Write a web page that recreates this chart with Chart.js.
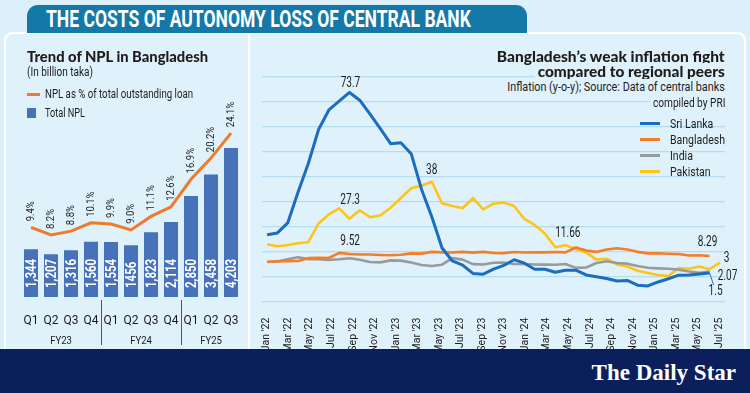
<!DOCTYPE html>
<html lang="en">
<head>
<meta charset="utf-8">
<title>The costs of autonomy loss of central bank</title>
<script src="https://cdn.jsdelivr.net/npm/chart.js@4.4.1/dist/chart.umd.min.js"></script>
<style>
  html, body { margin: 0; padding: 0; }
  body {
    width: 750px; height: 393px; position: relative; overflow: hidden;
    background: #dcf0fb; color: #1d1d1d; font-family: Roboto, sans-serif;
  }
  .abs { position: absolute; white-space: nowrap; }
  #frame { left: 4px; top: 32px; width: 742px; height: 320px; background: #fff; border-radius: 8px 8px 0 0; }
  .panel { top: 34px; height: 315px; background: #dff1fb; }
  #panelL { left: 6px; width: 242px; border-radius: 7px 0 0 0; }
  #panelR { left: 250px; width: 494px; border-radius: 0 7px 0 0; }
  #tab { left: 27px; top: 5px; width: 500px; height: 28px; background: #1479a9; border-radius: 11px 11px 0 0; }
  #tabText { left: 46px; top: 5px; color: #fff; font-weight: bold; font-size: 24px; line-height: 28px; transform-origin: left center; }
  #footer { left: 0; top: 349px; width: 750px; height: 44px; background: #0c1f5d; }
  #logo {
    right: 14px; top: 360px; color: #fff; font-size: 23px; line-height: 26px;
    font-family: "Liberation Serif", "DejaVu Serif", serif; font-weight: bold;
  }
  .head { font-family: Lato, "Open Sans", sans-serif; font-weight: 900; font-size: 15.5px; line-height: 16px; }
  .small { font-size: 12.5px; line-height: 16px; }
  .left { transform-origin: left center; }
  .right { transform-origin: right center; }
  .mask { background: #dff1fb; padding-left: 3px; }
  canvas { position: absolute; }
  .legRow { position: absolute; left: 0; height: 16px; width: 110px; font-size: 13.5px; line-height: 16px; }
  .legRow i { position: absolute; left: 0; top: 6.5px; width: 20px; height: 3px; }
  .legRow span { position: absolute; left: 30px; transform: scaleX(0.78); transform-origin: left center; }
</style>
</head>
<body>
<div id="frame" class="abs"></div>
<div id="panelL" class="abs panel"></div>
<div id="panelR" class="abs panel"></div>
<div id="tab" class="abs"></div>
<div id="tabText" class="abs fit" data-w="425">THE COSTS OF AUTONOMY LOSS OF CENTRAL BANK</div>

<canvas id="chartNpl" width="243" height="304" style="left:5px; top:45px;"></canvas>
<canvas id="chartInflacion" width="493" height="304" style="left:252px; top:45px;"></canvas>

<!-- textos panel izquierdo -->
<div class="abs head left fit" data-w="181" style="left:27px; top:48px;">Trend of NPL in Bangladesh</div>
<div class="abs small left fit" data-w="66" style="left:27px; top:64px;">(In billion taka)</div>
<div class="abs" style="left:27px; top:92.5px; width:13px; height:3px; background:#f07a2b;"></div>
<div class="abs small left fit" data-w="148" style="left:45px; top:86px;">NPL as % of total outstanding loan</div>
<div class="abs" style="left:27px; top:108px; width:9px; height:10px; background:#4771b9;"></div>
<div class="abs small left fit" data-w="40" style="left:45px; top:105px;">Total NPL</div>

<!-- textos panel derecho -->
<div class="abs head right fit mask" data-w="231" style="right:25px; top:48px;">Bangladesh’s weak inflation fight</div>
<div class="abs head right fit mask" data-w="190" style="right:25px; top:63px;">compared to regional peers</div>
<div class="abs small right fit mask" data-w="220" style="right:25px; top:79px;">Inflation (y-o-y); Source: Data of central banks</div>
<div class="abs small right fit mask" data-w="75" style="right:25px; top:95px;">compiled by PRI</div>
<div id="leyenda" class="abs" style="left:640px; top:115px; width:110px; height:70px;"></div>

<div id="footer" class="abs"></div>
<div id="logo" class="abs">The Daily Star</div>

<script>
// =========================================================================
// DATOS - NPL (Bangladesh)
// =========================================================================
const quarters = ['Q1', 'Q2', 'Q3', 'Q4', 'Q1', 'Q2', 'Q3', 'Q4', 'Q1', 'Q2', 'Q3'];
const fiscalYears = ['FY23', 'FY24', 'FY25'];
const fiscalYearSize = [4, 4, 3];
const totalNpl = [1344, 1207, 1316, 1560, 1554, 1456, 1823, 2114, 2850, 3458, 4203];
const totalNplText = ['1,344', '1,207', '1,316', '1,560', '1,554', '1456', '1,823', '2,114', '2,850', '3,458', '4,203'];
const nplShare = [9.4, 8.2, 8.8, 10.1, 9.9, 9.0, 11.1, 12.6, 16.9, 20.2, 24.1];

// =========================================================================
// DATOS - Inflación regional (y-o-y, %)
// =========================================================================
const months = [
    "Jan '22", "Feb '22", "Mar '22", "Apr '22", "May '22", "Jun '22", "Jul '22", "Aug '22", "Sep '22", "Oct '22", "Nov '22", "Dec '22",
    "Jan '23", "Feb '23", "Mar '23", "Apr '23", "May '23", "Jun '23", "Jul '23", "Aug '23", "Sep '23", "Oct '23", "Nov '23", "Dec '23",
    "Jan '24", "Feb '24", "Mar '24", "Apr '24", "May '24", "Jun '24", "Jul '24", "Aug '24", "Sep '24", "Oct '24", "Nov '24", "Dec '24",
    "Jan '25", "Feb '25", "Mar '25", "Apr '25", "May '25", "Jun '25", "Jul '25", "Aug '25", "Sep '25"
];
const monthTicks = [
    "Jan '22", "Mar '22", "May '22", "Jul '22", "Sep '22", "Nov '22", "Jan '23", "Mar '23", "May '23", "Jul '23", "Sep '23",
    "Nov '23", "Jan '24", "Mar '24", "May '24", "Jul '24", "Sep '24", "Nov '24", "Jan '25", "Mar '25", "May '25", "Jul '25"
];
const sriLanka = [
    16.8, 17.5, 21.5, 33.8, 45.3, 58.9, 66.7, 70.2, 73.7, 70.6, 65.0, 59.2,
    53.2, 53.6, 49.2, 35.0, 24.0, 11.5, 6.3, 4.6, 1.3, 1.0, 3.0, 4.5,
    6.8, 5.4, 3.0, 3.0, 1.8, 2.6, 2.6, 0.7, 0.0, -0.7, -1.7, -1.5,
    -3.4, -3.7, -2.1, -0.8, 0.6, 0.7, 1.1, 1.5, null
];
const bangladesh = [
    5.86, 6.17, 6.22, 6.29, 7.42, 7.56, 7.48, 9.52, 9.10, 8.91, 8.85, 8.71,
    8.57, 8.78, 9.33, 9.24, 9.94, 9.74, 9.69, 9.92, 9.63, 9.93, 9.49, 9.41,
    9.86, 9.67, 9.81, 9.74, 9.89, 9.72, 11.66, 10.49, 9.92, 10.87, 11.38, 10.89,
    9.94, 9.32, 9.35, 9.17, 9.05, 8.48, 8.55, 8.29, null
];
const india = [
    6.01, 6.07, 6.95, 7.79, 7.04, 7.01, 6.71, 7.0, 7.41, 6.77, 5.88, 5.72,
    6.52, 6.44, 5.66, 4.70, 4.25, 4.81, 7.44, 6.83, 5.02, 4.87, 5.55, 5.69,
    5.10, 5.09, 4.85, 4.83, 4.75, 5.08, 3.54, 3.65, 5.49, 6.21, 5.48, 5.22,
    4.31, 3.61, 3.34, 3.16, 2.82, 2.10, 1.61, 2.07, null
];
const pakistan = [
    13.0, 12.2, 12.7, 13.4, 13.8, 21.3, 24.9, 27.3, 23.2, 26.6, 23.8, 24.5,
    27.6, 31.5, 35.4, 36.4, 38.0, 29.4, 28.3, 27.4, 31.4, 26.9, 29.2, 29.7,
    28.3, 23.1, 20.7, 17.3, 11.8, 12.6, 11.1, 9.6, 6.9, 7.2, 4.9, 4.1,
    2.4, 1.5, 0.7, 0.3, 3.5, 3.2, 4.1, 3.0, 5.6
];

const FONT = 'Roboto, sans-serif';
const TEXT = '#1d1d1d';
const GRID = '#b3ddf3';

// Texto comprimido horizontalmente (la fuente original es condensada)
function textoCondensado(ctx, text, x, y, k, rot) {
    ctx.save();
    ctx.translate(x, y);
    if (rot) ctx.rotate(rot);
    ctx.scale(k, 1);
    ctx.fillText(text, 0, 0);
    ctx.restore();
}

// =========================================================================
// PLUGIN: etiquetas del gráfico NPL
// =========================================================================
const nplLabels = {
    id: 'nplLabels',
    afterDatasetsDraw(chart) {
        const { ctx, chartArea, scales: { x } } = chart;
        const lineMeta = chart.getDatasetMeta(0);
        const barMeta = chart.getDatasetMeta(1);
        ctx.save();
        ctx.textBaseline = 'middle';
        ctx.textAlign = 'left';

        // Valores de barras (blanco, vertical)
        ctx.fillStyle = '#fff';
        ctx.font = 'bold 14px ' + FONT;
        barMeta.data.forEach((bar, i) => {
            textoCondensado(ctx, totalNplText[i], bar.x + 1, bar.base - 9, 0.82, -Math.PI / 2);
        });

        // Porcentajes sobre la línea
        ctx.fillStyle = TEXT;
        ctx.font = '11px ' + FONT;
        lineMeta.data.forEach((pt, i) => {
            textoCondensado(ctx, nplShare[i].toFixed(1) + '%', pt.x, pt.y - 6, 0.86, -Math.PI / 2);
        });

        // Grupos de año fiscal
        ctx.textAlign = 'center';
        ctx.font = '11.5px ' + FONT;
        ctx.strokeStyle = '#555';
        ctx.lineWidth = 1;
        let start = 0;
        fiscalYears.forEach((fy, g) => {
            const end = start + fiscalYearSize[g] - 1;
            const cx = (x.getPixelForValue(start) + x.getPixelForValue(end)) / 2;
            textoCondensado(ctx, fy, cx, chartArea.bottom + 44, 0.83);
            if (g > 0) {
                const sx = Math.round((x.getPixelForValue(start - 1) + x.getPixelForValue(start)) / 2) + 0.5;
                ctx.beginPath();
                ctx.moveTo(sx, chartArea.bottom + 3);
                ctx.lineTo(sx, chartArea.bottom + 48);
                ctx.stroke();
            }
            start = end + 1;
        });
        ctx.restore();
    }
};

new Chart(document.getElementById('chartNpl').getContext('2d'), {
    data: {
        labels: quarters,
        datasets: [{
            type: 'line',
            label: 'NPL as % of total outstanding loan',
            data: nplShare,
            yAxisID: 'y2',
            borderColor: '#f07a2b',
            borderWidth: 3,
            pointRadius: 0,
            tension: 0
        }, {
            type: 'bar',
            label: 'Total NPL',
            data: totalNpl,
            yAxisID: 'y',
            backgroundColor: '#4771b9',
            barPercentage: 0.7,
            categoryPercentage: 1
        }]
    },
    options: {
        responsive: false,
        animation: false,
        layout: { padding: { left: 16, right: 7, top: 74.7, bottom: 0 } },
        plugins: { legend: { display: false }, tooltip: { enabled: false } },
        scales: {
            x: {
                grid: { display: false },
                border: { display: false },
                ticks: {
                    color: TEXT, font: { family: FONT, size: 12 }, padding: 9,
                    autoSkip: false, minRotation: 0, maxRotation: 0
                },
                afterFit: (s) => { s.height = 52; }
            },
            y: { display: false, min: 0, max: 5000 },
            y2: { display: false, min: -1.48, max: 26.2 }
        }
    },
    plugins: [nplLabels]
});

// =========================================================================
// GRÁFICO DE INFLACIÓN
// =========================================================================
const callouts = [
    { series: 0, idx: 8, dx: 1, dy: -9 },
    { series: 3, idx: 7, dx: 11, dy: -8 },
    { series: 1, idx: 7, dx: 11, dy: -11 },
    { series: 3, idx: 16, dx: 0, dy: -11 },
    { series: 1, idx: 30, dx: -8, dy: -14 },
    { series: 1, idx: 43, dx: -2, dy: -13 },
    { series: 3, idx: 43, dx: 17, dy: -11 },
    { series: 2, idx: 43, dx: 18, dy: 5 },
    { series: 0, idx: 43, dx: 6, dy: 19, leader: true }
];

const inflLabels = {
    id: 'inflLabels',
    afterDatasetsDraw(chart) {
        const { ctx } = chart;
        ctx.save();
        ctx.font = '14px ' + FONT;
        ctx.textAlign = 'center';
        ctx.textBaseline = 'middle';
        callouts.forEach(c => {
            const ds = chart.data.datasets[c.series];
            const pt = chart.getDatasetMeta(c.series).data[c.idx];
            if (c.leader) {
                ctx.strokeStyle = ds.borderColor;
                ctx.lineWidth = 1;
                ctx.beginPath();
                ctx.moveTo(pt.x, pt.y);
                ctx.lineTo(pt.x + c.dx - 2, pt.y + c.dy - 7);
                ctx.stroke();
            }
            ctx.fillStyle = TEXT;
            textoCondensado(ctx, String(ds.data[c.idx]), pt.x + c.dx, pt.y + c.dy, 0.72);
        });
        ctx.restore();
    }
};

const chartInflacion = new Chart(document.getElementById('chartInflacion').getContext('2d'), {
    type: 'line',
    data: {
        labels: months,
        datasets: [
            { label: 'Sri Lanka', data: sriLanka, borderColor: '#1b6dbf', borderWidth: 3 },
            { label: 'Bangladesh', data: bangladesh, borderColor: '#f57d28', borderWidth: 2.6 },
            { label: 'India', data: india, borderColor: '#9a9a9a', borderWidth: 2.6 },
            { label: 'Pakistan', data: pakistan, borderColor: '#ffc515', borderWidth: 2.6 }
        ]
    },
    options: {
        responsive: false,
        animation: false,
        layout: { padding: { left: 10, right: 20, top: 31.7, bottom: 0 } },
        elements: { point: { radius: 0 }, line: { tension: 0, borderJoinStyle: 'round' } },
        plugins: { legend: { display: false }, tooltip: { enabled: false } },
        scales: {
            x: { display: false, offset: true },
            xl: {
                type: 'linear',
                position: 'bottom',
                min: -0.22,
                max: 21.27,
                afterBuildTicks: (axis) => { axis.ticks = monthTicks.map((_, k) => ({ value: k })); },
                ticks: {
                    autoSkip: false,
                    minRotation: 90,
                    maxRotation: 90,
                    padding: 8,
                    color: TEXT,
                    font: { family: FONT, size: 10.5 },
                    callback: (v) => monthTicks[v]
                },
                grid: { display: false },
                border: { display: false },
                afterFit: (s) => { s.height = 47.3; }
            },
            y: {
                min: -10,
                max: 80,
                ticks: { display: false, stepSize: 10 },
                grid: { color: GRID, lineWidth: 1.2, drawTicks: false },
                border: { display: false },
                afterFit: (s) => { s.width = 0; }
            }
        }
    },
    plugins: [inflLabels]
});

// Leyenda HTML a partir de los datasets
const leyenda = document.getElementById('leyenda');
chartInflacion.data.datasets.forEach((ds, i) => {
    const row = document.createElement('div');
    row.className = 'legRow';
    row.style.top = (i * 16) + 'px';
    row.innerHTML = `<i style="background:${ds.borderColor}"></i><span>${ds.label}</span>`;
    leyenda.appendChild(row);
});

// Ajustar los textos HTML al ancho del original (fuente condensada)
document.querySelectorAll('.fit').forEach(el => {
    const w = el.getBoundingClientRect().width;
    el.style.transform = `scaleX(${(el.dataset.w / w).toFixed(3)})`;
});
</script>
</body>
</html>
